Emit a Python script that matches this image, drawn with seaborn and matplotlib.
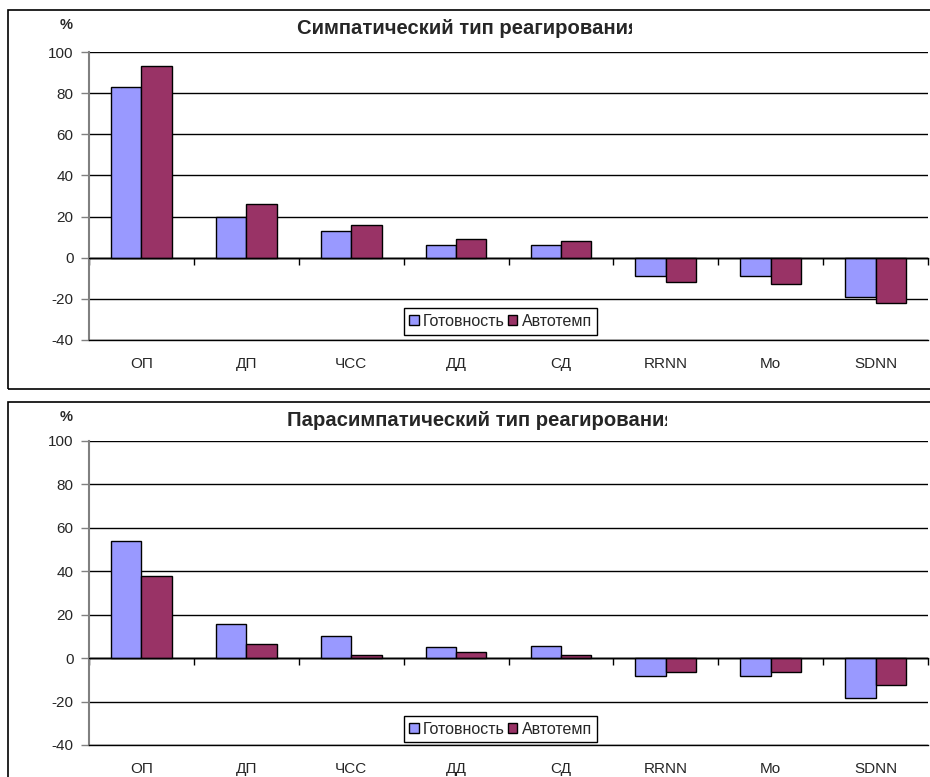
import numpy as np
import pandas as pd
import matplotlib
matplotlib.use("Agg")
import matplotlib.pyplot as plt
from matplotlib.patches import Rectangle
from matplotlib.transforms import Bbox, TransformedBbox
import seaborn as sns

categories = ["ОП", "ДП", "ЧСС", "ДД", "СД", "RRNN", "Mo", "SDNN"]
series_names = ["Готовность", "Автотемп"]

symp_ready = [83, 20, 13, 6, 6, -9, -9, -19]
symp_auto = [93, 26, 16, 9, 8, -12, -13, -22]

para_ready = [54, 15.5, 10, 5, 5.5, -8.3, -8.3, -18.5]
para_auto = [38, 6.5, 1.5, 3, 1.5, -6.2, -6.2, -12.3]

titles = ["Симпатический тип реагирования", "Парасимпатический тип реагирования"]
y_ticks = [-40, -20, 0, 20, 40, 60, 80, 100]

colors = ["#9999FF", "#993366"]

sns.set_theme(style="white")
plt.rcParams["font.family"] = ["Liberation Sans", "DejaVu Sans"]

W, H = 930, 777
fig = plt.figure(figsize=(W / 100, H / 100), dpi=100)


def fx(px):
    return px / W


def fy(py):
    return 1 - py / H


# outer chart frames
fig.patches.append(Rectangle((fx(8), fy(389)), 1.2, fy(10) - fy(389),
                             transform=fig.transFigure, fill=False,
                             edgecolor="black", linewidth=1.2))
fig.patches.append(Rectangle((fx(8), fy(900)), 1.2, fy(402) - fy(900),
                             transform=fig.transFigure, fill=False,
                             edgecolor="black", linewidth=1.2))

panels = [
    dict(ready=symp_ready, auto=symp_auto, top=52, bottom=340,
         title_y=29, title_x=297, clip_x=632, pct_y=25, legend_y=321.5),
    dict(ready=para_ready, auto=para_auto, top=441, bottom=745,
         title_y=421, title_x=287, clip_x=667, pct_y=417, legend_y=729),
]

for i, p in enumerate(panels):
    ax = fig.add_axes([fx(89), fy(p["bottom"]), fx(928) - fx(89),
                       fy(p["top"]) - fy(p["bottom"])])
    df = pd.DataFrame({
        "cat": categories * 2,
        "val": list(p["ready"]) + list(p["auto"]),
        "series": [series_names[0]] * len(categories)
                  + [series_names[1]] * len(categories),
    })
    sns.barplot(data=df, x="cat", y="val", hue="series", order=categories,
                hue_order=series_names, palette=colors, width=0.58, gap=0,
                edgecolor="black", linewidth=1.0, saturation=1, ax=ax,
                legend=True)

    ax.set_ylim(-40, 100)
    ax.set_xlim(-0.5, len(categories) - 0.5)
    ax.set_yticks(y_ticks)
    ax.set_yticklabels([str(t) for t in y_ticks], fontsize=11)
    ax.yaxis.grid(True, color="black", linewidth=1.0)
    ax.set_axisbelow(True)
    ax.set_xlabel("")
    ax.set_ylabel("")
    ax.tick_params(axis="y", length=6, width=1, color="#808080",
                   direction="out", pad=5, left=True)
    ax.tick_params(axis="x", length=0, pad=12.5, labelsize=11)
    for s in ["top", "right"]:
        ax.spines[s].set_visible(False)
    ax.spines["left"].set_color("#808080")
    ax.spines["left"].set_linewidth(1.5)
    ax.spines["bottom"].set_color("black")
    ax.spines["bottom"].set_linewidth(1.0)

    # category axis at the zero line with boundary ticks
    zero_frac = (0 - (-40)) / (100 - (-40))
    sec = ax.secondary_xaxis(zero_frac)
    sec.set_xticks(np.arange(-0.5, len(categories), 1.0))
    sec.set_xticklabels([])
    sec.tick_params(axis="x", length=5, width=1, color="black",
                    direction="out")
    sec.spines["bottom"].set_color("black")
    sec.spines["bottom"].set_linewidth(1.0)
    ax.axhline(0, color="black", linewidth=1.0, zorder=3)

    handles, labels = ax.get_legend_handles_labels()
    leg = ax.legend(handles, labels, loc="center",
                    bbox_to_anchor=(fx(500.5), fy(p["legend_y"])),
                    bbox_transform=fig.transFigure, ncol=2, fontsize=11.5,
                    frameon=True, fancybox=False, framealpha=1,
                    edgecolor="black", handlelength=0.6, handleheight=0.6,
                    handletextpad=0.25, columnspacing=0.2, borderpad=0.35,
                    borderaxespad=0)
    leg.get_frame().set_linewidth(1.0)

    t = fig.text(fx(p["title_x"]), fy(p["title_y"]), titles[i],
                 fontsize=14.6, fontweight="bold", ha="left", va="center")
    t.set_clip_box(TransformedBbox(
        Bbox([[0, 0], [fx(p["clip_x"]), 1]]), fig.transFigure))
    t.set_clip_on(True)

    fig.text(fx(66), fy(p["pct_y"]), "%", fontsize=10.5, fontweight="bold",
             ha="center", va="center")

fig.savefig("out.png", dpi=100, facecolor="white")
